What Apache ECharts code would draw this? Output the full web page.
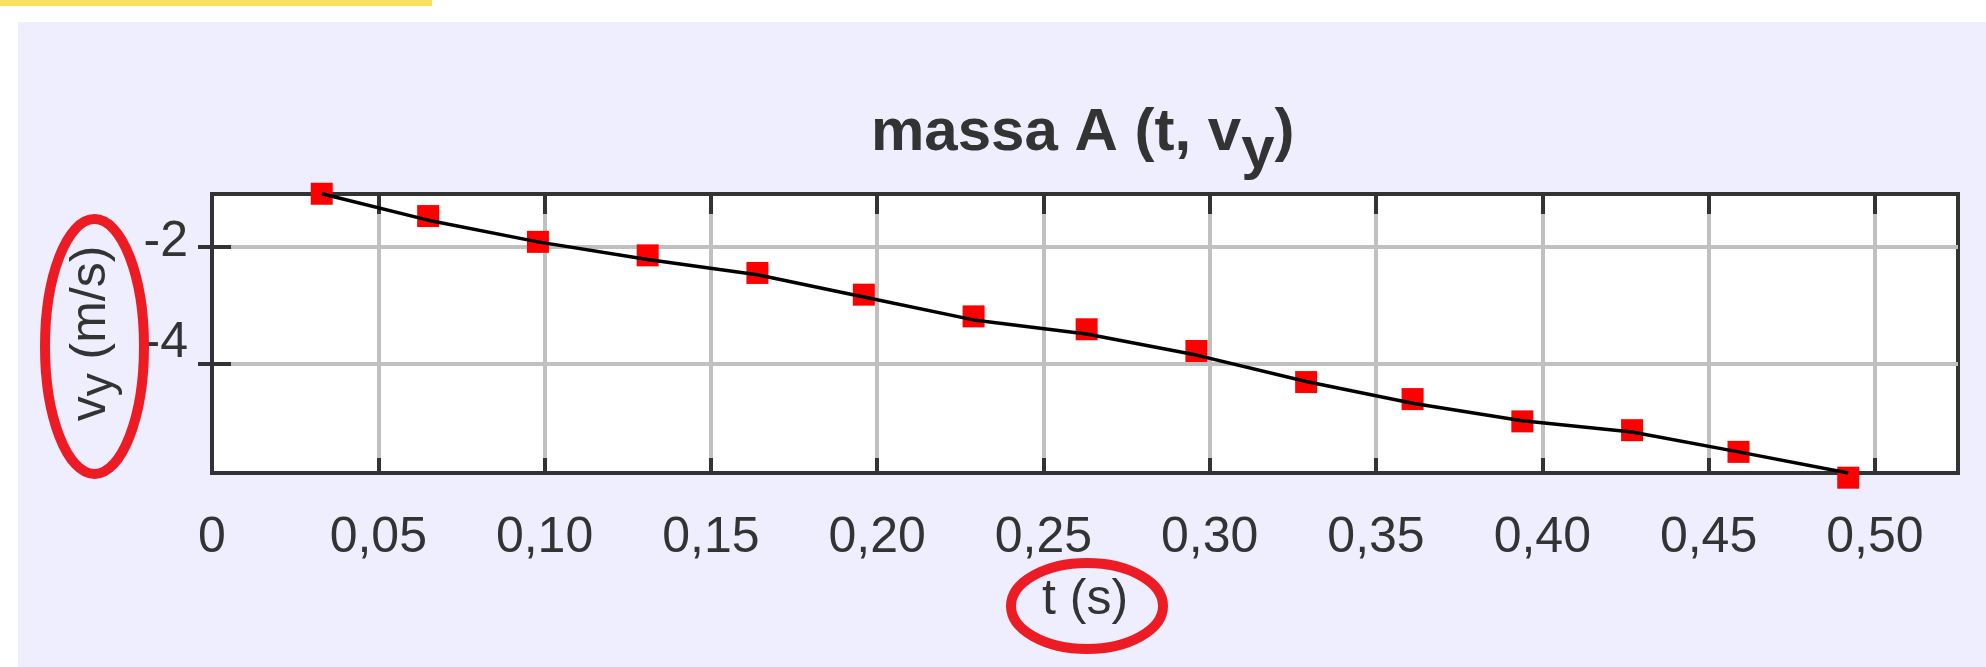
<!DOCTYPE html>
<html>
<head>
<meta charset="utf-8">
<script src="https://cdn.jsdelivr.net/npm/echarts@6/dist/echarts.min.js"></script>
<style>
html,body{margin:0;padding:0;background:#fff;}
#chart{width:1986px;height:667px;}
</style>
</head>
<body>
<div id="chart"></div>
<script>
// ---- data ----
const tValues   = [0.033, 0.065, 0.098, 0.131, 0.164, 0.196, 0.229, 0.263, 0.296, 0.329, 0.361, 0.394, 0.427, 0.459, 0.492];
const vyPoints  = [-1.10, -1.48, -1.92, -2.15, -2.45, -2.82, -3.19, -3.41, -3.78, -4.31, -4.60, -4.98, -5.13, -5.50, -5.94];
const vyLine    = [-1.10, -1.55, -1.92, -2.22, -2.48, -2.86, -3.25, -3.49, -3.85, -4.30, -4.67, -4.97, -5.16, -5.50, -5.86];

const xTickValues  = [0.05, 0.10, 0.15, 0.20, 0.25, 0.30, 0.35, 0.40, 0.45, 0.50];
const xLabelValues = [0, 0.05, 0.10, 0.15, 0.20, 0.25, 0.30, 0.35, 0.40, 0.45, 0.50];
const xLabelTexts  = ['0', '0,05', '0,10', '0,15', '0,20', '0,25', '0,30', '0,35', '0,40', '0,45', '0,50'];
const yTickValues  = [-2, -4];
const yLabelTexts  = ['-2', '-4'];

const titleParts = ['massa A (t, v', 'y', ')'];
const yNameParts = ['v', 'y', ' (m/s)'];
const xName = 't (s)';

const FONT = 'Liberation Sans';
const TXT = '#333333';

function lookup(vals, v) {
  for (let i = 0; i < vals.length; i++) if (Math.abs(vals[i] - v) < 1e-6) return i;
  return -1;
}

const chart = echarts.init(document.getElementById('chart'), null, {renderer: 'canvas'});

const tickStyle = {color: '#333333', width: 4};

const option = {
  backgroundColor: '#ffffff',
  animation: false,
  title: {
    text: '{a|' + titleParts[0] + '}{b|' + titleParts[1] + '}{a|' + titleParts[2] + '}',
    left: 866,
    top: 80,
    textStyle: {
      rich: {
        a: {fontFamily: FONT, fontSize: 60, fontWeight: 'bold', color: TXT},
        b: {fontFamily: FONT, fontSize: 60, fontWeight: 'bold', color: TXT, padding: [36, 0, 0, 0]}
      }
    }
  },
  grid: {
    left: 212, right: 28, top: 194, bottom: 194,
    show: true, backgroundColor: '#ffffff', borderColor: '#333333', borderWidth: 4
  },
  xAxis: [{
    type: 'value', position: 'bottom', min: 0, max: 0.525,
    axisLine: {show: false},
    axisTick: {show: true, inside: true, length: 15, lineStyle: tickStyle, customValues: xTickValues},
    axisLabel: {
      customValues: xLabelValues, margin: 40,
      fontFamily: FONT, fontSize: 50, color: TXT,
      formatter: v => { const i = lookup(xLabelValues, v); return i >= 0 ? xLabelTexts[i] : ''; }
    },
    splitLine: {show: true, lineStyle: {color: '#c0c0c0', width: 4}},
    name: xName, nameLocation: 'middle', nameGap: 102,
    nameTextStyle: {fontFamily: FONT, fontSize: 50, color: TXT}
  }, {
    type: 'value', position: 'top', min: 0, max: 0.525,
    axisLine: {show: false},
    axisTick: {show: true, inside: true, length: 20, lineStyle: tickStyle, customValues: xTickValues},
    axisLabel: {show: false},
    splitLine: {show: false}
  }],
  yAxis: [{
    type: 'value', position: 'left', min: -5.86, max: -1.104,
    axisLine: {show: false},
    axisTick: {show: true, inside: true, length: 19, lineStyle: tickStyle, customValues: yTickValues},
    axisLabel: {
      customValues: yTickValues, margin: 24,
      fontFamily: FONT, fontSize: 50, color: TXT,
      formatter: v => { const i = lookup(yTickValues, v); return i === 0 ? '{a|' + yLabelTexts[0] + '}' : (i === 1 ? '{b|' + yLabelTexts[1] + '}' : ''); },
      rich: {
        a: {fontFamily: FONT, fontSize: 50, color: TXT, padding: [0, 0, 8, 0]},
        b: {fontFamily: FONT, fontSize: 50, color: TXT, padding: [0, 0, 42, 0]}
      }
    },
    splitLine: {show: true, lineStyle: {color: '#c0c0c0', width: 4}},
    name: '{a|' + yNameParts[0] + '}{b|' + yNameParts[1] + '}{a|' + yNameParts[2] + '}',
    nameLocation: 'middle', nameGap: 90, nameRotate: 90,
    nameTextStyle: {
      rich: {
        a: {fontFamily: FONT, fontSize: 50, color: TXT},
        b: {fontFamily: FONT, fontSize: 46, color: TXT, padding: [16, 0, 0, 0]}
      }
    }
  }, {
    type: 'value', position: 'right', min: -5.86, max: -1.104,
    axisLine: {show: false},
    axisTick: {show: true, inside: true, length: 14, lineStyle: tickStyle, customValues: yTickValues},
    axisLabel: {show: false},
    splitLine: {show: false}
  }],
  series: [{
    name: 'pontos', type: 'scatter', xAxisIndex: 0, yAxisIndex: 0,
    data: tValues.map((t, i) => [t, vyPoints[i]]),
    symbol: 'rect', symbolSize: 22, itemStyle: {color: '#ff0000', opacity: 1},
    clip: false, z: 3
  }, {
    name: 'linha', type: 'line', xAxisIndex: 0, yAxisIndex: 0,
    data: tValues.map((t, i) => [t, vyLine[i]]),
    showSymbol: false, symbol: 'none',
    lineStyle: {color: '#000000', width: 3.5, opacity: 1},
    clip: false, z: 4
  }],
  graphic: [
    {type: 'rect', z: -100, shape: {x: 18, y: 22, width: 1968, height: 645}, style: {fill: '#eeeeff'}},
    {type: 'rect', z: -90, shape: {x: 0, y: 0, width: 432, height: 6}, style: {fill: '#ffdf5f'}},
    {type: 'ellipse', z: 100, shape: {cx: 94.5, cy: 346.5, rx: 49.5, ry: 127.5}, style: {fill: 'none', stroke: '#ed1c24', lineWidth: 10}},
    {type: 'ellipse', z: 100, shape: {cx: 1087, cy: 606, rx: 76, ry: 43}, style: {fill: 'none', stroke: '#ed1c24', lineWidth: 10}}
  ]
};
chart.setOption(option);
</script>
</body>
</html>
